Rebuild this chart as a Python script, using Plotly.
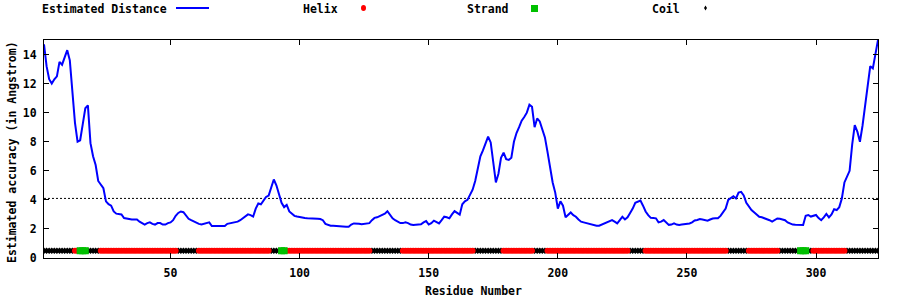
import plotly.graph_objects as go

# ---- data ----
residues = list(range(1, 325))
est_distance = [
    14.7, 13.2, 12.3, 12.0, 12.3, 12.5, 13.5, 13.3, 13.8, 14.3,
    13.6, 11.4, 9.3, 8.0, 8.1, 9.2, 10.3, 10.5, 7.9, 7.0,
    6.4, 5.3, 5.0, 4.8, 3.9, 3.7, 3.6, 3.2, 3.05, 3.05,
    3.0, 2.75, 2.7, 2.65, 2.65, 2.65, 2.65, 2.5, 2.4, 2.3,
    2.4, 2.45, 2.35, 2.3, 2.4, 2.4, 2.3, 2.3, 2.4, 2.45,
    2.6, 2.9, 3.1, 3.2, 3.15, 2.95, 2.7, 2.6, 2.5, 2.45,
    2.35, 2.3, 2.35, 2.4, 2.45, 2.2, 2.2, 2.2, 2.15, 2.15,
    2.2, 2.35, 2.38, 2.4, 2.45, 2.5, 2.6, 2.75, 2.9, 3.0,
    2.95, 2.85, 3.4, 3.75, 3.7, 4.0, 4.2, 4.3, 4.8, 5.4,
    5.0, 4.3, 3.8, 3.5, 3.65, 3.2, 3.05, 2.9, 2.85, 2.8,
    2.78, 2.75, 2.73, 2.73, 2.75, 2.73, 2.7, 2.68, 2.6, 2.35,
    2.28, 2.22, 2.22, 2.2, 2.22, 2.15, 2.15, 2.15, 2.15, 2.3,
    2.38, 2.38, 2.35, 2.32, 2.33, 2.36, 2.4, 2.6, 2.76, 2.8,
    2.9, 2.96, 3.05, 3.22, 3.0, 2.73, 2.6, 2.5, 2.4, 2.4,
    2.45, 2.4, 2.3, 2.27, 2.3, 2.3, 2.32, 2.45, 2.54, 2.3,
    2.4, 2.57, 2.5, 2.38, 2.6, 2.84, 2.8, 2.73, 3.0, 3.22,
    3.1, 2.98, 3.7, 3.9, 4.0, 4.4, 4.7, 5.3, 6.1, 7.0,
    7.4, 7.9, 8.35, 7.95, 6.5, 5.2, 5.8, 6.9, 7.25, 6.8,
    6.75, 6.9, 8.0, 8.6, 9.0, 9.45, 9.7, 10.0, 10.55, 10.4,
    9.0, 9.6, 9.4, 8.9, 8.3, 7.3, 6.3, 5.2, 4.5, 3.4,
    3.9, 3.6, 2.8, 3.0, 3.13, 2.95, 2.84, 2.65, 2.5, 2.45,
    2.4, 2.38, 2.3, 2.25, 2.22, 2.22, 2.3, 2.35, 2.45, 2.55,
    2.61, 2.5, 2.38, 2.6, 2.84, 2.65, 2.8, 3.1, 3.4, 3.8,
    3.9, 3.95, 3.6, 3.2, 2.95, 2.76, 2.75, 2.73, 2.45, 2.5,
    2.61, 2.45, 2.28, 2.3, 2.38, 2.3, 2.27, 2.3, 2.32, 2.35,
    2.38, 2.45, 2.58, 2.62, 2.68, 2.65, 2.6, 2.57, 2.65, 2.72,
    2.73, 2.73, 2.9, 3.13, 3.4, 4.0, 4.15, 4.25, 4.1, 4.5,
    4.55, 4.3, 3.8, 3.5, 3.3, 3.15, 3.0, 2.84, 2.8, 2.75,
    2.7, 2.6, 2.5, 2.6, 2.72, 2.7, 2.65, 2.6, 2.45, 2.35,
    2.3, 2.28, 2.27, 2.27, 2.27, 2.9, 2.96, 2.85, 2.9, 2.96,
    2.75, 2.6, 2.8, 3.03, 2.8, 3.0, 3.35, 3.3, 3.5, 4.1,
    5.2, 5.6, 6.0, 7.8, 9.15, 8.7, 8.0, 9.1, 10.5, 11.8,
    13.2, 13.05, 14.0, 15.0,
]
threshold = 4.1
ss_level = 0.5
coil_segments = [(1, 12), (18, 22), (53, 60), (89, 92), (128, 139), (168, 178),
                 (191, 195), (228, 233), (266, 273), (286, 293), (297, 298), (312, 324)]
helix_segments = [(13, 14), (23, 52), (61, 88), (95, 127), (140, 167), (179, 190),
                  (196, 227), (234, 265), (274, 285), (299, 311)]
strand_segments = [(15, 17), (93, 94), (294, 296)]
x_ticks = [50, 100, 150, 200, 250, 300]
y_ticks = [0, 2, 4, 6, 8, 10, 12, 14]
legend_labels = ["Estimated Distance", "Helix", "Strand", "Coil"]


def expand(segs):
    out = []
    for a, b in segs:
        out.extend(range(a, b + 1))
    return out


FONT = dict(family="DejaVu Sans Mono", size=11.5, color="black", weight="bold")
BLUE = "#0000ff"
RED = "#ff0000"
GREEN = "#00c000"

fig = go.Figure()

fig.add_trace(go.Scatter(x=[residues[0], residues[-1]], y=[threshold, threshold], mode="lines",
                         line=dict(color="black", width=1, dash="2px,2px"), hoverinfo="skip"))
fig.add_trace(go.Scatter(x=residues, y=est_distance, mode="lines",
                         line=dict(color=BLUE, width=2), hoverinfo="skip"))

coil_x = expand(coil_segments)
helix_x = expand(helix_segments)
strand_x = expand(strand_segments)
fig.add_trace(go.Scatter(x=coil_x, y=[ss_level] * len(coil_x), mode="markers",
                         marker=dict(symbol="diamond", size=5, color="black", line=dict(width=0))))
fig.add_trace(go.Scatter(x=helix_x, y=[ss_level] * len(helix_x), mode="markers",
                         marker=dict(symbol="circle", size=6, color=RED, line=dict(width=0))))
fig.add_trace(go.Scatter(x=strand_x, y=[ss_level] * len(strand_x), mode="markers",
                         marker=dict(symbol="square", size=7, color=GREEN, line=dict(width=0))))

# plot-area geometry (pixels) for the key
L, R, T, B = 44, 878, 40, 258


def px(xp):
    return (xp - L) / (R - L)


def py(yp):
    return (B - yp) / (B - T)


ann = []
key_text_right = [169, 340, 511, 682]
for lab, xr in zip(legend_labels, key_text_right):
    ann.append(dict(text=lab, x=px(xr), y=py(9), xref="paper", yref="paper",
                    xanchor="right", yanchor="middle", showarrow=False, font=FONT))
ann.append(dict(text="Residue Number", x=px(473), y=py(291), xref="paper", yref="paper",
                xanchor="center", yanchor="middle", showarrow=False, font=FONT))
ann.append(dict(text="Estimated accuracy (in Angstrom)", x=px(12), y=py(152), xref="paper",
                yref="paper", xanchor="center", yanchor="middle", showarrow=False,
                textangle=-90, font=FONT))

shapes = [
    dict(type="line", xref="paper", yref="paper", x0=px(176), x1=px(209), y0=py(8), y1=py(8),
         line=dict(color=BLUE, width=2)),
    dict(type="circle", xref="paper", yref="paper", x0=px(361), x1=px(366), y0=py(5), y1=py(11),
         fillcolor=RED, line=dict(width=0)),
    dict(type="rect", xref="paper", yref="paper", x0=px(531), x1=px(538), y0=py(5), y1=py(12),
         fillcolor=GREEN, line=dict(width=0)),
    dict(type="path", xref="paper", yref="paper",
         path=f"M {px(705.5)} {py(5.5)} L {px(707)} {py(8)} L {px(705.5)} {py(10.5)} L {px(704)} {py(8)} Z",
         fillcolor="black", line=dict(width=0)),
]

fig.update_layout(
    width=900, height=300,
    margin=dict(l=L, r=900 - R, t=T, b=300 - B),
    paper_bgcolor="white", plot_bgcolor="white",
    showlegend=False,
    annotations=ann, shapes=shapes,
    font=FONT,
)
fig.update_xaxes(range=[1, 324], tickvals=x_ticks, ticks="inside", ticklen=5, tickcolor="black",
                 showline=True, linecolor="black", linewidth=1, mirror="ticks",
                 showgrid=False, zeroline=False, tickfont=FONT, ticklabelstandoff=4)
fig.update_yaxes(range=[0, 15], tickvals=y_ticks, ticks="inside", ticklen=5, tickcolor="black",
                 showline=True, linecolor="black", linewidth=1, mirror="ticks",
                 showgrid=False, zeroline=False, tickfont=FONT, ticklabelstandoff=4)

fig.write_html("out.html")
